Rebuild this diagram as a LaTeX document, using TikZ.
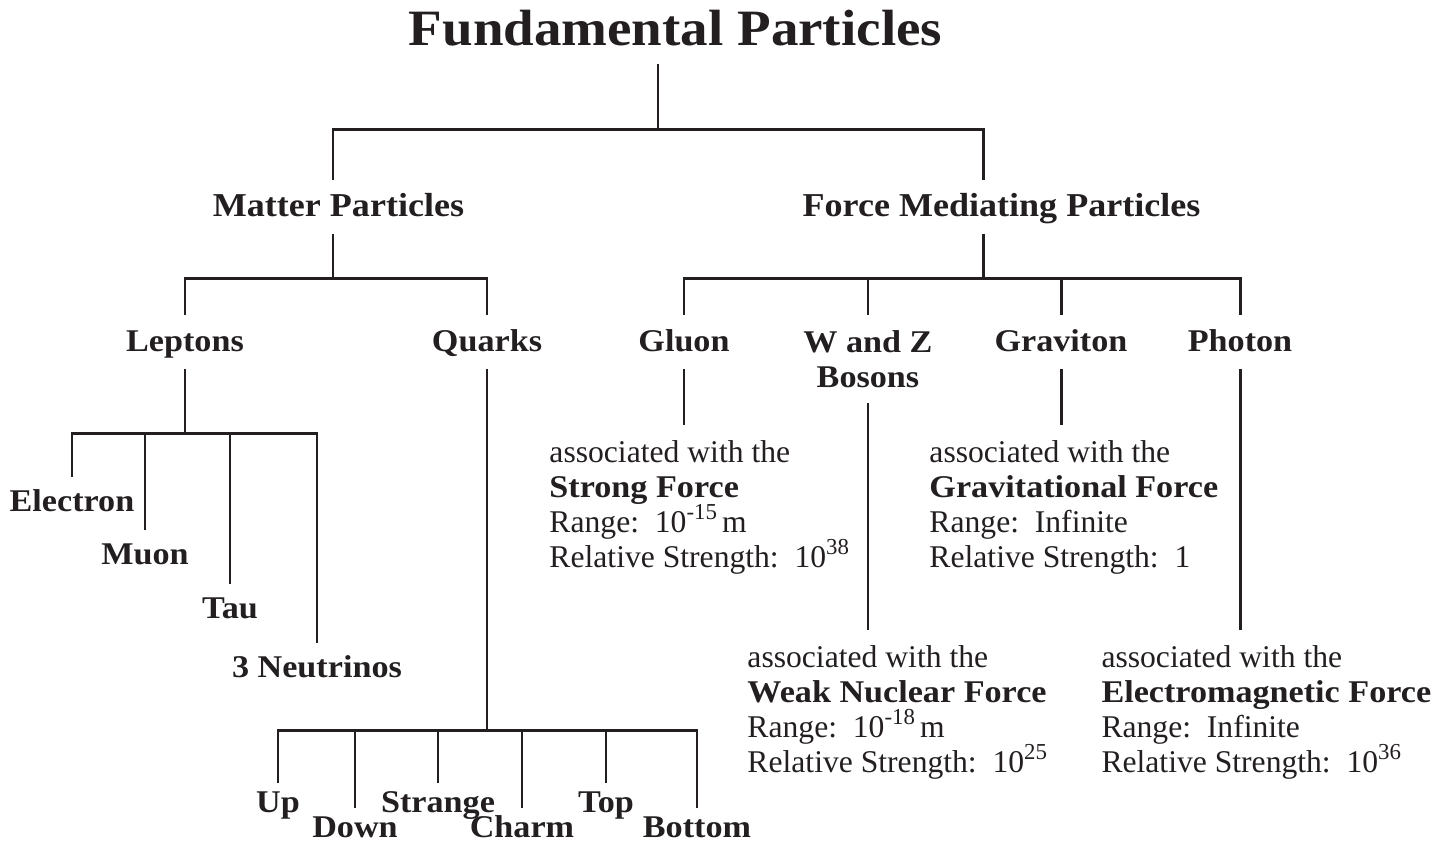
\documentclass[tikz,border=0pt]{standalone}
\usepackage{fontspec}
\setmainfont{Liberation Serif}[BoldFeatures={FakeStretch=1.08}]
\definecolor{ink}{HTML}{231F20}
\newcommand\pw[1]{\smash{\raisebox{0.42em}{\fontsize{13}{13}\selectfont #1}}}
\tikzset{
  toptitle/.style={font=\bfseries\fontsize{29}{32}\selectfont, anchor=base, text depth=0pt, inner ysep=10pt},
  head/.style={font=\bfseries\fontsize{18}{20}\selectfont, text height=12pt, text depth=1pt, inner xsep=2pt, inner ysep=8pt, anchor=north},
  bighead/.style={head, font=\bfseries\fontsize{19}{21}\selectfont},
  leaf/.style={head, inner ysep=7pt},
  info/.style={font=\fontsize{18}{20}\selectfont, align=left, anchor=north west, inner xsep=0pt, inner ysep=8pt}
}
\begin{document}
\begin{tikzpicture}[x=0.02cm, y=-0.02cm, line width=1.7pt, color=ink]
\useasboundingbox (0,0) rectangle (1445,843);
% names
\node[toptitle] (title) at (675.5,45) {Fundamental Particles};
\node[bighead] (matter) at (338.5,180) {Matter Particles};
\node[bighead] (force) at (1001.5,180) {Force Mediating Particles};
\node[head] (leptons) at (185,315) {Leptons};
\node[head] (quarks) at (487,315) {Quarks};
\node[head] (gluon) at (684,315) {Gluon};
\node[head, text height={}, text depth={}, align=center] (wz) at (868,315) {W and Z\\Bosons};
\node[head] (graviton) at (1061,315) {Graviton};
\node[head] (photon) at (1240,315) {Photon};
\node[leaf] (electron) at (72,477) {Electron};
\node[leaf] (muon) at (145,530) {Muon};
\node[leaf] (tau) at (230,584) {Tau};
\node[leaf] (neutrinos) at (317,643) {3 Neutrinos};
\node[leaf, inner ysep=4pt] (up) at (278,783) {Up};
\node[leaf, inner ysep=4pt] (down) at (355,808) {Down};
\node[leaf, inner ysep=4pt] (strange) at (438,783) {Strange};
\node[leaf, inner ysep=4pt] (charm) at (522,808) {Charm};
\node[leaf, inner ysep=4pt] (top) at (606,783) {Top};
\node[leaf, inner ysep=4pt] (bottom) at (697,808) {Bottom};
% forces
\node[info] (strong) at (548,425) {associated with the\\\textbf{Strong Force}\\Range:\ \ 10\pw{-15}\,m\\Relative Strength:\ \ 10\pw{38}};
\node[info] (gravit) at (928,425) {associated with the\\\textbf{Gravitational Force}\\Range:\ \ Infinite\\Relative Strength:\ \ 1};
\node[info] (weak) at (746,630) {associated with the\\\textbf{Weak Nuclear Force}\\Range:\ \ 10\pw{-18}\,m\\Relative Strength:\ \ 10\pw{25}};
\node[info] (electro) at (1100,630) {associated with the\\\textbf{Electromagnetic Force}\\Range:\ \ Infinite\\Relative Strength:\ \ 10\pw{36}};
% tree
\coordinate (j0) at (658,129);
\coordinate (jm) at (333,129);
\coordinate (jf) at (983,129);
\draw (j0 |- title.south) -- (j0);
\draw (jm |- matter.north) -- (jm) -- (jf) -- (jf |- force.north);
\coordinate (jmb) at (333,278);
\draw (jm |- matter.south) -- (jmb);
\draw (leptons.north) -- (leptons.north |- jmb) -- (quarks.north |- jmb) -- (quarks.north);
\coordinate (jfb) at (983,278);
\draw (jf |- force.south) -- (jfb);
\draw (gluon.north) -- (gluon.north |- jfb) -- (photon.north |- jfb) -- (photon.north);
\draw (wz.north) -- (wz.north |- jfb);
\draw (graviton.north) -- (graviton.north |- jfb);
\coordinate (jl) at (185,433);
\draw (leptons.south) -- (jl);
\draw (electron.north) -- (electron.north |- jl) -- (neutrinos.north |- jl) -- (neutrinos.north);
\draw (muon.north) -- (muon.north |- jl);
\draw (tau.north) -- (tau.north |- jl);
\coordinate (jq) at (487,730);
\draw (quarks.south) -- (jq);
\draw (up.north) -- (up.north |- jq) -- (bottom.north |- jq) -- (bottom.north);
\draw (down.north) -- (down.north |- jq);
\draw (strange.north) -- (strange.north |- jq);
\draw (charm.north) -- (charm.north |- jq);
\draw (top.north) -- (top.north |- jq);
\draw (gluon.south) -- (gluon.south |- strong.north);
\draw (wz.south) -- (wz.south |- weak.north);
\draw (graviton.south) -- (graviton.south |- gravit.north);
\draw (photon.south) -- (photon.south |- electro.north);
\end{tikzpicture}
\end{document}
